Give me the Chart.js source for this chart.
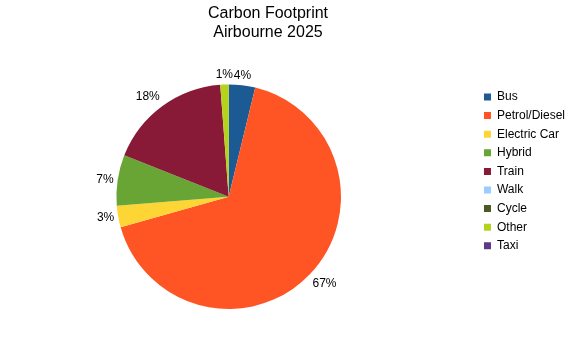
<!DOCTYPE html>
<html>
<head>
<meta charset="utf-8">
<script src="https://cdn.jsdelivr.net/npm/chart.js@4"></script>
<style>
  html, body { margin: 0; padding: 0; background: #fff; }
  #wrap { width: 575px; height: 337px; }
</style>
</head>
<body>
<div id="wrap"><canvas id="footprint"></canvas></div>
<script>
const titleLines = ["Carbon Footprint", "Airbourne 2025"];
const categories = ["Bus", "Petrol/Diesel", "Electric Car", "Hybrid", "Train", "Walk", "Cycle", "Other", "Taxi"];
const shares = [3.8, 66.8, 3.1, 7.3, 17.8, 0, 0, 1.2, 0];
const sliceColours = ["#1c5a94", "#ff5424", "#fdd535", "#69a535", "#881a37", "#99ccff", "#4a5a22", "#b5d21c", "#5c3a86"];

const FONT = "'Liberation Sans', Arial, sans-serif";

// percent labels just outside the pie, like the office chart
const outsideLabels = {
  id: "outsideLabels",
  afterDatasetsDraw(chart) {
    const ctx = chart.ctx;
    const meta = chart.getDatasetMeta(0);
    const total = shares.reduce((a, b) => a + b, 0);
    ctx.save();
    ctx.font = "12px " + FONT;
    ctx.fillStyle = "#000";
    meta.data.forEach((arc, i) => {
      if (!shares[i]) return;
      const text = Math.round(shares[i] / total * 100) + "%";
      const mid = (arc.startAngle + arc.endAngle) / 2;
      const cos = Math.cos(mid), sin = Math.sin(mid);
      const d = arc.outerRadius + 4;
      // hang the text off the point by its nearest corner / edge
      ctx.textAlign = cos > 0.35 ? "left" : (cos < -0.35 ? "right" : "center");
      ctx.textBaseline = sin > 0.35 ? "top" : (sin < -0.35 ? "bottom" : "middle");
      ctx.fillText(text, arc.x + cos * d, arc.y + sin * d);
    });
    ctx.restore();
  }
};

// pie sits a bit left of the middle of the free area
const nudgePie = {
  id: "nudgePie",
  afterLayout(chart) {
    const area = chart.chartArea;
    area.left -= 20;
    area.width = area.right - area.left;
  }
};

new Chart(document.getElementById("footprint"), {
  type: "pie",
  data: {
    labels: categories,
    datasets: [{
      data: shares,
      backgroundColor: sliceColours,
      borderWidth: 0
    }]
  },
  options: {
    responsive: true,
    maintainAspectRatio: false,
    animation: false,
    layout: { padding: { left: -39, right: 0, top: 0, bottom: 28 } },
    plugins: {
      title: {
        display: true,
        text: titleLines,
        color: "#000",
        font: { family: FONT, size: 16, weight: "normal", lineHeight: 1.2 },
        padding: { top: 4, bottom: 42 }
      },
      legend: {
        position: "right",
        align: "start",
        fullSize: false,
        labels: {
          color: "#000",
          font: { family: FONT, size: 12 },
          boxWidth: 7,
          boxHeight: 7,
          padding: 6.6
        }
      },
      tooltip: { enabled: false }
    }
  },
  plugins: [outsideLabels, nudgePie]
});
</script>
</body>
</html>
